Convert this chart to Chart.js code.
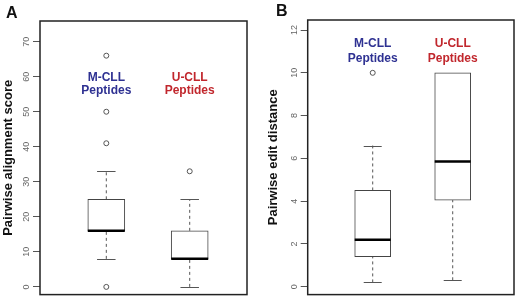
<!DOCTYPE html>
<html>
<head>
<script src="https://cdn.jsdelivr.net/npm/chart.js@4"></script>
<style>
  body { margin: 0; background: #fff; }
  .panel { position: absolute; top: 0; }
</style>
</head>
<body>
<canvas id="chartA" class="panel" style="left:0" width="260" height="301"></canvas>
<canvas id="chartB" class="panel" style="left:260px" width="260" height="301"></canvas>
<script>
// groups and their text colours
var groups = ['M-CLL', 'U-CLL'];
var groupColors = ['#2e3192', '#c1272d'];
var groupPos = [1, 2];

// panel A: pairwise alignment score
var alignLow = [8, 0];
var alignQ1 = [16, 8];
var alignMed = [16, 8];
var alignQ3 = [25, 16];
var alignHigh = [33, 25];
var alignOutliers = [[0, 41, 50, 66], [33]];
var alignTicks = [0, 10, 20, 30, 40, 50, 60, 70];

// panel B: pairwise edit distance
var editLow = [0.2, 0.3];
var editQ1 = [1.4, 4.05];
var editMed = [2.2, 5.85];
var editQ3 = [4.5, 10];
var editHigh = [6.6, 10];
var editOutliers = [[10], []];
var editTicks = [0, 2, 4, 6, 8, 10, 12];

var FONT = "'Liberation Sans', Arial, sans-serif";

var boxPlugin = {
  id: 'boxes',
  beforeDatasetsDraw: function(chart, args, o) {
    var ctx = chart.ctx, x = chart.scales.x, y = chart.scales.y;
    ctx.save();
    ctx.strokeStyle = '#555';
    ctx.lineWidth = 1;
    for (var i = 0; i < o.pos.length; i++) {
      var px = x.getPixelForValue(o.pos[i]);
      ctx.setLineDash([3, 3]);
      ctx.beginPath();
      ctx.moveTo(px, y.getPixelForValue(o.low[i]));
      ctx.lineTo(px, y.getPixelForValue(o.q1[i]));
      ctx.moveTo(px, y.getPixelForValue(o.q3[i]));
      ctx.lineTo(px, y.getPixelForValue(o.high[i]));
      ctx.stroke();
      ctx.setLineDash([]);
      ctx.beginPath();
      [o.low[i], o.high[i]].forEach(function(v) {
        var py = Math.round(y.getPixelForValue(v)) + 0.5;
        ctx.moveTo(px - o.cap / 2, py);
        ctx.lineTo(px + o.cap / 2, py);
      });
      ctx.stroke();
    }
    ctx.restore();
  },
  afterDatasetsDraw: function(chart, args, o) {
    var ctx = chart.ctx, x = chart.scales.x, y = chart.scales.y;
    ctx.save();
    ctx.strokeStyle = '#000';
    ctx.lineWidth = 2.5;
    for (var i = 0; i < o.pos.length; i++) {
      var px = x.getPixelForValue(o.pos[i]);
      var py = y.getPixelForValue(o.med[i]);
      ctx.beginPath();
      ctx.moveTo(px - o.width / 2, py);
      ctx.lineTo(px + o.width / 2, py);
      ctx.stroke();
      // group names
      ctx.fillStyle = groupColors[i];
      ctx.font = 'bold 12px ' + FONT;
      ctx.textAlign = 'center';
      ctx.textBaseline = 'middle';
      ctx.fillText(groups[i], px, y.getPixelForValue(o.nameY[0]));
      ctx.fillText('Peptides', px, y.getPixelForValue(o.nameY[1]));
    }
    // frame and panel letter
    var a = chart.chartArea;
    ctx.strokeStyle = '#222';
    ctx.lineWidth = 1.5;
    ctx.strokeRect(a.left, a.top, a.right - a.left, a.bottom - a.top);
    ctx.fillStyle = '#111';
    ctx.font = 'bold 16px ' + FONT;
    ctx.textAlign = 'left';
    ctx.textBaseline = 'alphabetic';
    ctx.fillText(o.letter, o.letterX, o.letterY);
    ctx.restore();
  }
};

function makePanel(id, p) {
  var boxData = [], outData = [];
  for (var i = 0; i < groups.length; i++) {
    boxData.push({ x: groupPos[i], y: [p.q1[i], p.q3[i]] });
    p.out[i].forEach(function(v) { outData.push({ x: groupPos[i], y: v }); });
  }
  return new Chart(document.getElementById(id), {
    type: 'bar',
    data: {
      datasets: [{
        data: boxData,
        backgroundColor: '#fff',
        borderColor: '#444',
        borderWidth: 1,
        borderSkipped: false,
        barThickness: p.boxWidth
      }, {
        type: 'scatter',
        data: outData,
        pointStyle: 'circle',
        pointRadius: 2.5,
        pointBackgroundColor: '#fff',
        pointBorderColor: '#555',
        pointBorderWidth: 1
      }]
    },
    options: {
      responsive: false,
      animation: false,
      layout: { padding: p.padding },
      plugins: {
        legend: { display: false },
        tooltip: { enabled: false },
        boxes: {
          pos: groupPos, low: p.low, q1: p.q1, med: p.med, q3: p.q3, high: p.high,
          width: p.boxWidth, cap: p.boxWidth / 2, nameY: p.nameY,
          letter: p.letter, letterX: p.letterX, letterY: p.letterY
        }
      },
      scales: {
        x: { type: 'linear', display: false, offset: false, min: p.xMin, max: p.xMax },
        y: {
          min: p.yMin, max: p.yMax,
          afterBuildTicks: function(s) { s.ticks = p.ticks.map(function(v) { return { value: v }; }); },
          afterFit: function(s) { s.width = p.axisWidth; },
          border: { display: false },
          grid: { drawOnChartArea: false, drawTicks: true, tickLength: 7, color: '#555' },
          ticks: {
            minRotation: 90, maxRotation: 90, crossAlign: 'center', padding: 1,
            color: '#666', font: { family: FONT, size: 9 }
          },
          title: {
            display: true, text: p.title, color: '#111',
            padding: { top: p.titlePad, bottom: 0 },
            font: { family: FONT, size: 13, weight: 'bold' }
          }
        }
      }
    },
    plugins: [boxPlugin]
  });
}

makePanel('chartA', {
  low: alignLow, q1: alignQ1, med: alignMed, q3: alignQ3, high: alignHigh, out: alignOutliers,
  ticks: alignTicks, yMin: -2.2, yMax: 75.9, xMin: 0.205, xMax: 2.687,
  boxWidth: 37, axisWidth: 40, titlePad: 1,
  padding: { left: 0, top: 21, right: 13, bottom: 5.5 },
  nameY: [59.8, 56.1], title: 'Pairwise alignment score',
  letter: 'A', letterX: 6, letterY: 18
});

makePanel('chartB', {
  low: editLow, q1: editQ1, med: editMed, q3: editQ3, high: editHigh, out: editOutliers,
  ticks: editTicks, yMin: -0.37, yMax: 12.47, xMin: 0.1875, xMax: 2.766,
  boxWidth: 36, axisWidth: 47.7, titlePad: 6,
  padding: { left: 0, top: 20, right: 6, bottom: 6 },
  nameY: [11.36, 10.68], title: 'Pairwise edit distance',
  letter: 'B', letterX: 16, letterY: 16
});
</script>
</body>
</html>
